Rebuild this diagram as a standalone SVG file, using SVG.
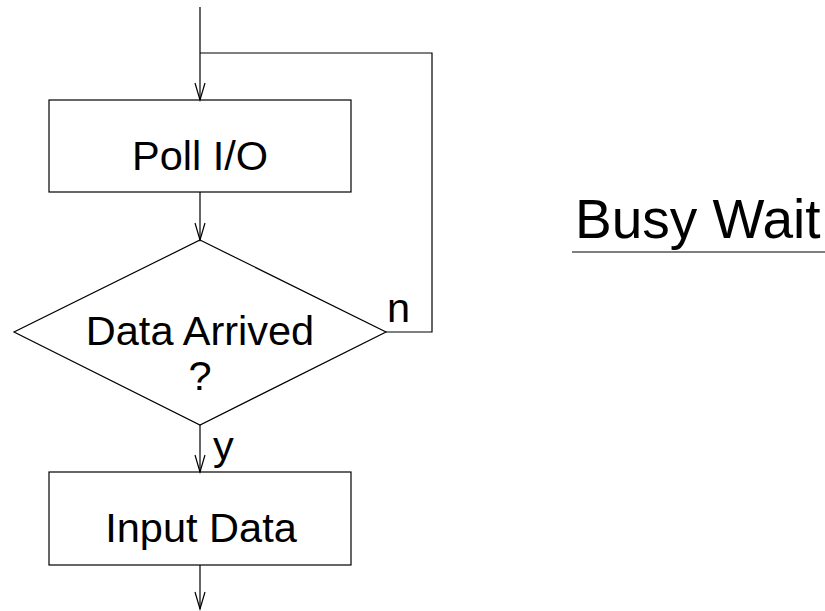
<svg xmlns="http://www.w3.org/2000/svg" width="825" height="611" viewBox="0 0 825 611">
  <style>
    .shape { fill: none; stroke: #000; stroke-width: 1.2; }
    .wire { fill: none; stroke: #000; stroke-width: 1.2; }
    .lbl { font-family: "Liberation Sans", Arial, sans-serif; font-size: 41.5px; fill: #000; }
  </style>
  <defs>
    <marker id="arrow" markerUnits="userSpaceOnUse" markerWidth="20" markerHeight="12" viewBox="0 0 20 12" refX="18" refY="6" orient="auto">
      <path d="M1,1 L18,6 L1,11" fill="none" stroke="#000" stroke-width="1.2"/>
    </marker>
  </defs>
  <rect width="825" height="611" fill="#fff"/>

  <g id="connectors">
    <path class="wire" d="M200,7 V100" marker-end="url(#arrow)"/>
    <path class="wire" d="M386,332 H432 V53 H200"/>
    <path class="wire" d="M200,192 V240" marker-end="url(#arrow)"/>
    <path class="wire" d="M200,425 V472" marker-end="url(#arrow)"/>
    <path class="wire" d="M200,565 V609" marker-end="url(#arrow)"/>
    <text class="lbl" x="387" y="322">n</text>
    <text class="lbl" x="213" y="460">y</text>
  </g>

  <g id="poll">
    <rect class="shape" x="49" y="100" width="302" height="92"/>
    <text class="lbl" x="200" y="170" text-anchor="middle">Poll I/O</text>
  </g>

  <g id="decision">
    <path class="shape" d="M200,240 L386,332 L200,425 L14,332 Z"/>
    <text class="lbl" x="200" y="345" text-anchor="middle">Data Arrived</text>
    <text class="lbl" x="200" y="390" text-anchor="middle">?</text>
  </g>

  <g id="input">
    <rect class="shape" x="49" y="472" width="302" height="93"/>
    <text class="lbl" x="201" y="542" text-anchor="middle">Input Data</text>
  </g>

  <g id="title">
    <text class="lbl" x="575" y="238" style="font-size:55px">Busy Wait</text>
    <line class="wire" x1="572" y1="252" x2="825" y2="252"/>
  </g>
</svg>
